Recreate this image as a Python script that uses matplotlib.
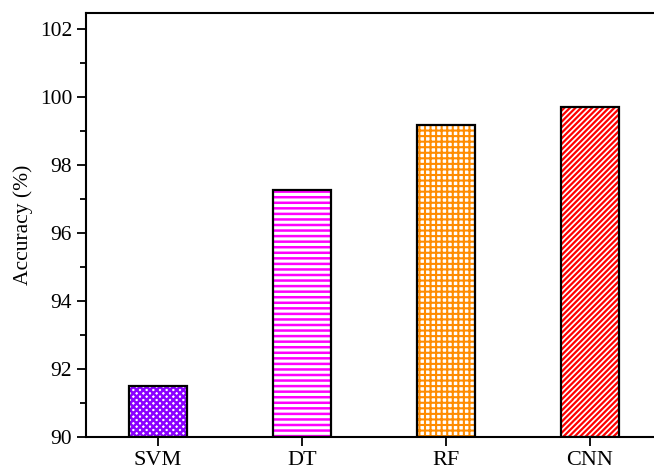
import matplotlib
matplotlib.use("Agg")
import matplotlib.pyplot as plt
import numpy as np
from matplotlib.ticker import MultipleLocator

models = ["SVM", "DT", "RF", "CNN"]
accuracy = [91.5, 97.27, 99.18, 99.72]
hatch_colors = ["#8B00FF", "#FF00FF", "#FF8C00", "#FF0000"]
hatches = ["xxxxx", "---", "+++", "//////"]
hatch_widths = [1.8, 1.8, 1.5, 1.6]

plt.rcParams["font.family"] = ["Liberation Serif", "DejaVu Serif"]

fig = plt.figure(figsize=(6.54, 4.75), dpi=100)
ax = fig.add_axes([86 / 654, 38 / 475, 576 / 654, 424 / 475])

x = np.arange(len(models))
for i in range(len(models)):
    with plt.rc_context({"hatch.linewidth": hatch_widths[i]}):
        bars = ax.bar(x[i], accuracy[i] - 90, bottom=90, width=0.4, facecolor="white",
                      edgecolor=hatch_colors[i], hatch=hatches[i], linewidth=0, zorder=2)
    for b in bars:
        if hasattr(b, "set_hatch_linewidth"):
            b.set_hatch_linewidth(hatch_widths[i])
ax.bar(x, np.array(accuracy) - 90, bottom=90, width=0.4, fill=False,
       edgecolor="black", linewidth=1.6, zorder=3)

ax.set_ylim(90, 102.47)
ax.set_xlim(-0.5, 3.5)
ax.yaxis.set_major_locator(MultipleLocator(2))
ax.yaxis.set_minor_locator(MultipleLocator(1))
ax.set_xticks(x)
ax.set_xticklabels(models, fontsize=16)
ax.tick_params(axis="y", labelsize=15.5)
ax.tick_params(which="major", length=6.5, width=1.3, direction="out")
ax.tick_params(which="minor", length=4, width=1.3, direction="out")
ax.set_ylabel("Accuracy (%)", fontsize=15.5, labelpad=5)

for side in ["left", "bottom", "top", "right"]:
    ax.spines[side].set_linewidth(1.5)

fig.savefig("out.png", dpi=100)
